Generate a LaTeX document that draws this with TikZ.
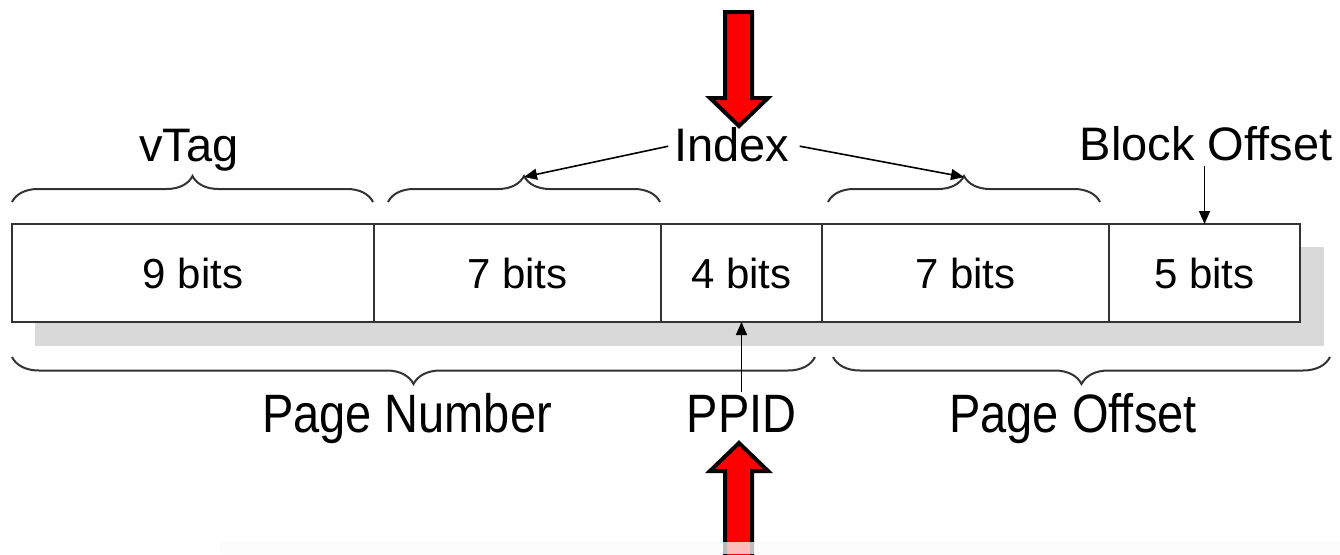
\documentclass[tikz,border=0pt]{standalone}
\usepackage{fontspec}
\setmainfont{Liberation Sans}
\usetikzlibrary{arrows.meta,decorations.pathreplacing,calc}
\definecolor{ink}{HTML}{333333}
\definecolor{shadowgray}{HTML}{D9D9D9}
\tikzset{
  field/.style={draw=ink, line width=2pt, fill=white, inner sep=0pt, outer sep=0pt,
    minimum height=98pt, text depth=0pt, font=\fontsize{42}{48}\selectfont},
  label/.style={inner sep=0pt, anchor=base, font=\fontsize{47}{54}\selectfont},
  bracket/.style={draw=ink, line width=2pt,
    decorate, decoration={brace, amplitude=#1, aspect=0.5}},
  pointer/.style={draw=black, line width=1.6pt,
    -{Triangle[length=13pt, width=11pt]}},
  bigarrow/.style={fill=red, draw=black, line width=4pt, line join=miter}
}
\begin{document}
\begin{tikzpicture}[x=1pt, y=-1pt]
  \useasboundingbox (0,0) rectangle (1340,554);

  % drop shadow of the address word
  \fill[shadowgray] (35,247) rectangle (1324,346);

  % the five bit fields
  \node[field, minimum width=362pt] (f1) at (193,273) {9 bits};
  \node[field, minimum width=287pt] (f2) at (517.5,273) {7 bits};
  \node[field, minimum width=161pt] (f3) at (741.5,273) {4 bits};
  \node[field, minimum width=287pt] (f4) at (965.5,273) {7 bits};
  \node[field, minimum width=191pt] (f5) at (1204.5,273) {5 bits};

  % braces above the fields
  \draw[bracket=26pt] (12,202) -- (373,202);
  \draw[bracket=26pt] (388,202) -- (660,202);
  \draw[bracket=26pt] (828,202) -- (1100,202);
  \coordinate (t2) at (524,177);
  \coordinate (t3) at (964,177);

  % braces below the fields
  \draw[bracket=27pt] (815,357) -- (12,357);
  \draw[bracket=27pt] (1330,357) -- (833,357);

  % labels
  \node[label] (vtag) at (189,161) {vTag};
  \node[label] (index) at (732,161) {Index};
  \node[label] (boff) at (1206,160) {Block Offset};
  \node[label, yscale=1.15] (pnum) at (407,432) {Page Number};
  \node[label, yscale=1.15] (ppid) at (741.5,432) {PPID};
  \node[label, yscale=1.15] (poff) at (1073,432) {Page Offset};

  % thin pointers
  \draw[pointer] ($(index.west)+(-6,2)$) -- (t2);
  \draw[pointer] ($(index.east)+(10,2)$) -- (t3);
  \draw[pointer] (f5.north |- 0,166) -- (f5.north);
  \draw[pointer] (f3.south |- 0,392) -- (f3.south);

  % big red arrows
  \draw[bigarrow] (725,12) -- (752,12) -- (752,98) -- (768,98) -- (739,126)
    -- (710,98) -- (725,98) -- cycle;
  \draw[bigarrow] (725,570) -- (725,471) -- (710,471) -- (739,443)
    -- (768,471) -- (752,471) -- (752,570);

  % faint band along the lower edge
  \fill[white, opacity=0.5] (220,542) rectangle (1340,554);
  \fill[gray!4, opacity=0.5] (220,542) rectangle (1340,554);
\end{tikzpicture}
\end{document}
